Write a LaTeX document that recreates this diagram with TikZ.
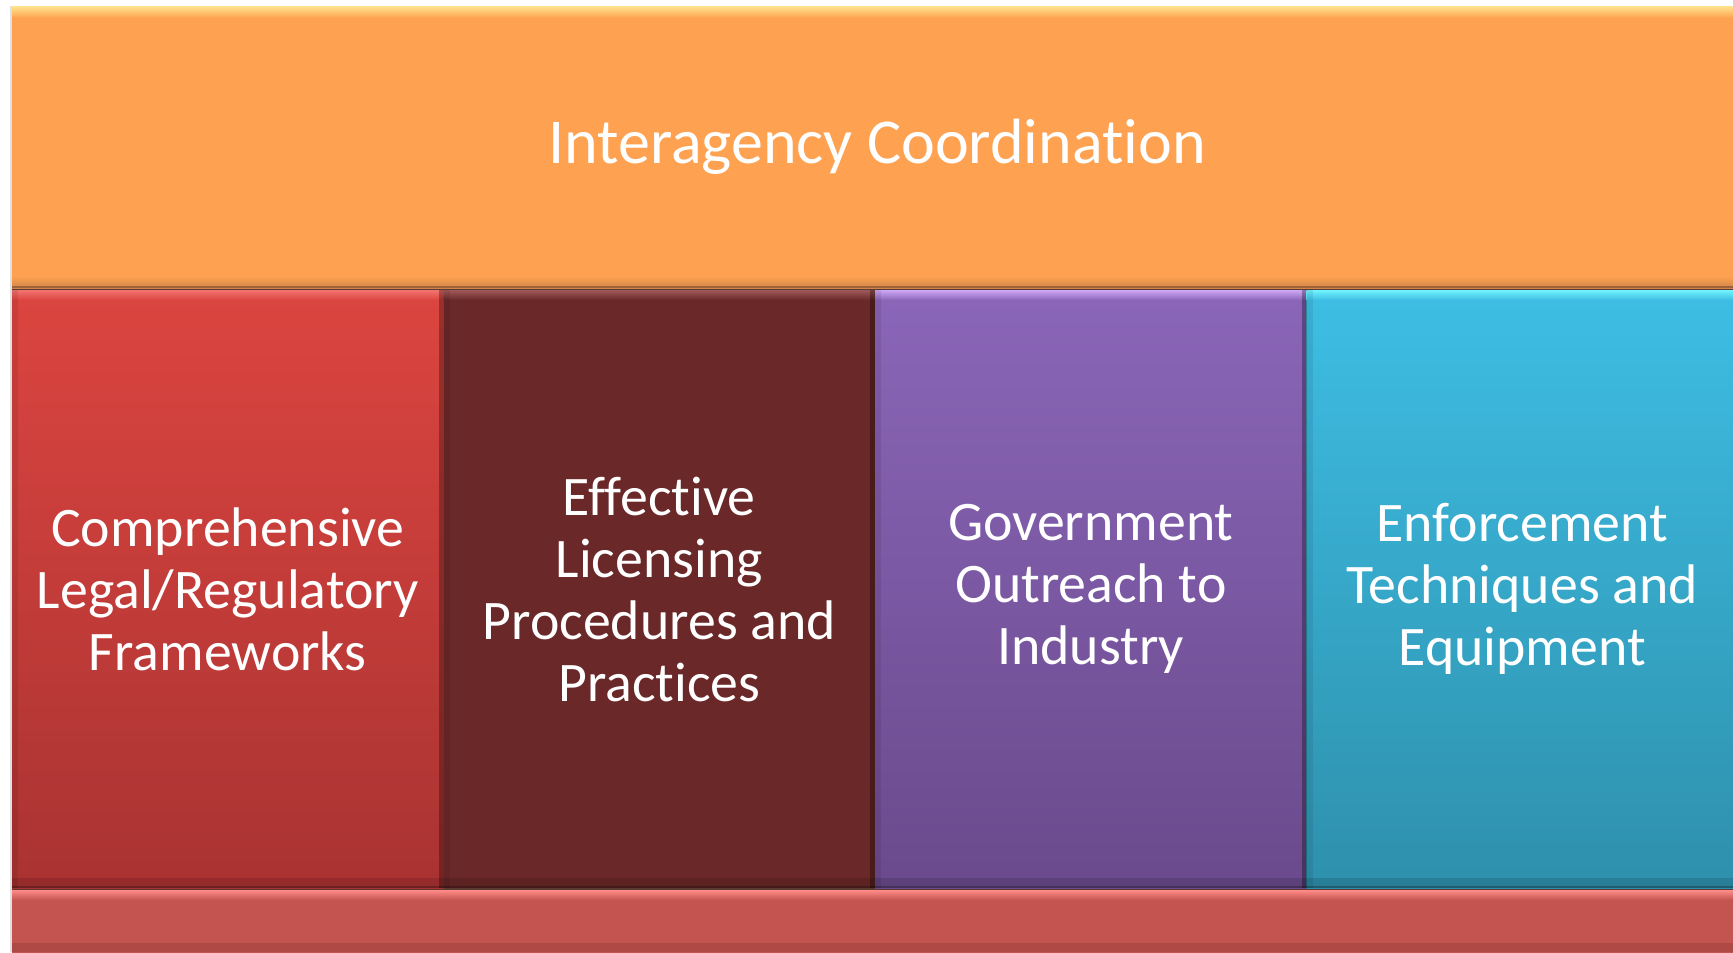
\documentclass[tikz,border=0pt]{standalone}
\usepackage{fontspec}
\setmainfont{Carlito}[Ligatures=NoCommon]
\definecolor{orangeb}{HTML}{FEA251}
\definecolor{orangehl}{HTML}{FFE48E}
\definecolor{orangesh}{HTML}{D2844A}
\definecolor{redt}{HTML}{DC4540}
\definecolor{redb}{HTML}{A93332}
\definecolor{redhl}{HTML}{F27470}
\definecolor{brownb}{HTML}{6B2828}
\definecolor{brownhl}{HTML}{9E5A5A}
\definecolor{purt}{HTML}{8B66B9}
\definecolor{purb}{HTML}{6A4A8C}
\definecolor{purhl}{HTML}{CFA8F6}
\definecolor{cyant}{HTML}{3EBEE4}
\definecolor{cyanb}{HTML}{2E90AC}
\definecolor{cyanhl}{HTML}{72F4FF}
\definecolor{botb}{HTML}{C4544F}
\definecolor{bothl}{HTML}{FF8C88}
\definecolor{botsh}{HTML}{AE4946}
\definecolor{gapc}{HTML}{5A3A30}
\tikzset{
  panel/.style={rectangle, inner sep=0pt, outer sep=0pt, text=white, align=center, anchor=north west},
  colbox/.style={panel, minimum width=215.75bp, minimum height=299bp},
  coltext/.style={text=white, align=center, font=\fontsize{27.9bp}{31bp}\selectfont},
}
\begin{document}
\begin{tikzpicture}[x=0.5bp,y=-0.5bp]
\useasboundingbox (0,0) rectangle (1733,952);
\fill[white] (0,0) rectangle (1733,952);
\fill[black!12] (10,6) rectangle (12,952);
\fill[gapc] (12,280) rectangle (1742,896);

% top bar
\node[panel, fill=orangeb, minimum width=865bp, minimum height=141bp] (coord) at (12,6) {};
\shade[top color=orangehl, bottom color=orangeb] (coord.north west) rectangle ([yshift=-6bp]coord.north east);
\shade[top color=orangeb, bottom color=orangesh] ([yshift=6bp]coord.south west) rectangle (coord.south east);
\fill[orangesh!75!black] ([yshift=0.8bp]coord.south west) rectangle (coord.south east);
\node[text=white, font=\fontsize{32bp}{36bp}\selectfont] (coordtext) at (coord.center) {Interagency Coordination};

% columns
\node[colbox, top color=redt, bottom color=redb] (c1) at (12,290) {};
\node[colbox, fill=brownb] (c2) at (443.5,290) {};
\node[colbox, top color=purt, bottom color=purb] (c3) at (875,290) {};
\node[colbox, top color=cyant, bottom color=cyanb] (c4) at (1306.5,290) {};

\foreach \n/\hl/\bs in {c1/redhl/redt, c2/brownhl/brownb, c3/purhl/purt, c4/cyanhl/cyant} {
  \shade[top color=\hl, bottom color=\bs] (\n.north west) rectangle ([yshift=-5bp]\n.north east);
  \fill[black, opacity=0.12] ([yshift=5bp]\n.south west) rectangle (\n.south east);
  \fill[black, opacity=0.25] ([yshift=1bp]\n.south west) rectangle (\n.south east);
  \fill[black, opacity=0.3] ([xshift=-2.5bp]\n.north east) rectangle (\n.south east);
  \fill[black, opacity=0.08] (\n.north west) rectangle ([xshift=3bp]\n.south west);
}

\node[coltext] (t1) at (c1.center) {Comprehensive\\Legal/Regulatory\\Frameworks};
\node[coltext] (t2) at (c2.center) {Effective\\Licensing\\Procedures and\\Practices};
\node[coltext] (t3) at (c3.center) {Government\\Outreach to\\Industry};
\node[coltext] (t4) at (c4.center) {Enforcement\\Techniques and\\Equipment};

% bottom bar
\node[panel, fill=botb, minimum width=865bp, minimum height=35bp] (base) at (12,890) {};
\shade[top color=bothl, bottom color=botb] (base.north west) rectangle ([yshift=-5bp]base.north east);
\fill[botsh] (12,943) rectangle (1742,952);
\end{tikzpicture}
\end{document}
